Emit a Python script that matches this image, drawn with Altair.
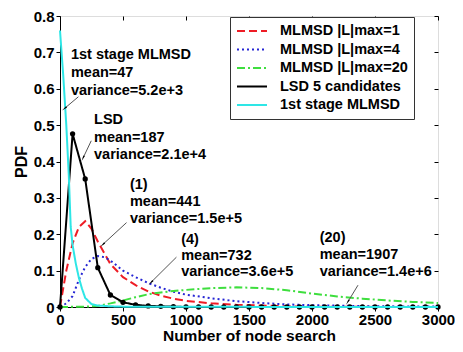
import math
import altair as alt
import pandas as pd

FONT = "Liberation Sans"

series_names = ["MLMSD |L|max=1", "MLMSD |L|max=4", "MLMSD |L|max=20",
                "LSD 5 candidates", "1st stage MLMSD"]
series_colors = ["#ee1c25", "#2626d4", "#3ede3e", "#000000", "#2ee6e6"]
series_dash = [[8, 4], [2, 3], [8, 3, 2, 3], [1, 0], [1, 0]]

red_x = [0, 50, 100, 150, 200, 250, 300, 400, 500, 600, 700, 800, 900, 1000,
         1200, 1400, 1600, 1800, 2000, 2500, 3000]
red_y = [0, 0.10, 0.175, 0.22, 0.236, 0.215, 0.18, 0.118, 0.082, 0.06, 0.043,
         0.031, 0.023, 0.017, 0.010, 0.006, 0.004, 0.002, 0.001, 0.0003, 0]

blue_x = [0, 50, 100, 150, 200, 250, 300, 350, 400, 500, 600, 700, 800, 900,
          1000, 1200, 1400, 1600, 1800, 2000, 2500, 3000]
blue_y = [0, 0.01, 0.03, 0.075, 0.11, 0.132, 0.14, 0.137, 0.128, 0.10, 0.082,
          0.066, 0.053, 0.042, 0.034, 0.024, 0.016, 0.011, 0.007, 0.005, 0.002, 0.001]

green_x = [0, 200, 300, 400, 500, 600, 700, 800, 900, 1000, 1200, 1400, 1600,
           1800, 2000, 2200, 2400, 2600, 2800, 3000]
green_y = [0, 0.001, 0.003, 0.01, 0.018, 0.027, 0.035, 0.04, 0.044, 0.047,
           0.052, 0.054, 0.052, 0.046, 0.037, 0.029, 0.023, 0.018, 0.014, 0.011]

lsd_x = list(range(0, 3001, 100))
lsd_y = [0, 0.476, 0.352, 0.108, 0.033, 0.013, 0.006, 0.003, 0.002, 0.001] + [0] * 21

cyan_x = [0, 25, 50, 70, 85, 100, 125, 150, 175, 200, 250, 300, 400, 500, 1000, 2000, 3000]
cyan_y = [0.76, 0.64, 0.50, 0.36, 0.22, 0.17, 0.12, 0.08, 0.05, 0.025, 0.008,
          0.004, 0.002, 0.001, 0.0005, 0.0002, 0]

ann_text = ["1st stage MLMSD", "mean=47", "variance=5.2e+3",
            "LSD", "mean=187", "variance=2.1e+4",
            "(1)", "mean=441", "variance=1.5e+5",
            "(4)", "mean=732", "variance=3.6e+5",
            "(20)", "mean=1907", "variance=1.4e+6"]
ann_x = [87] * 3 + [270] * 3 + [555] * 3 + [962] * 3 + [2061] * 3
ann_y = [0.692, 0.643, 0.595, 0.514, 0.465, 0.419, 0.335, 0.289, 0.243,
         0.184, 0.141, 0.097, 0.189, 0.143, 0.097]

arrow_x = [146, 248, 528, 924, 2365]
arrow_y = [0.578, 0.457, 0.232, 0.137, 0.060]
arrow_x2 = [40, 185, 343, 726, 2286]
arrow_y2 = [0.547, 0.411, 0.173, 0.069, 0.015]

x_ticks = [0, 500, 1000, 1500, 2000, 2500, 3000]
y_ticks = [0, 0.1, 0.2, 0.3, 0.4, 0.5, 0.6, 0.7, 0.8]

W, H = 378, 291

# ---- tables
rows = []
for name, xs_, ys_ in zip(series_names, [red_x, blue_x, green_x, lsd_x, cyan_x],
                          [red_y, blue_y, green_y, lsd_y, cyan_y]):
    for a, b in zip(xs_, ys_):
        rows.append({"series": name, "x": a, "y": b})
lines_df = pd.DataFrame(rows)
ann_df = pd.DataFrame({"text": ann_text, "x": ann_x, "y": ann_y})
angles = []
for x1, y1, x2, y2 in zip(arrow_x, arrow_y, arrow_x2, arrow_y2):
    dx = (x2 - x1) * W / 3000.0
    dy = -(y2 - y1) * H / 0.8
    angles.append(math.degrees(math.atan2(dx, -dy)) % 360)
arr_df = pd.DataFrame({"x": arrow_x, "y": arrow_y, "x2": arrow_x2,
                       "y2": arrow_y2, "angle": angles})

xsc = alt.Scale(domain=[0, 3000], nice=False, zero=False)
ysc = alt.Scale(domain=[0, 0.8], nice=False, zero=False)
color_scale = alt.Scale(domain=series_names, range=series_colors)
dash_scale = alt.Scale(domain=series_names, range=series_dash)

legend = alt.Legend(title=None, orient="none", legendX=170, legendY=1,
                    symbolType="stroke", symbolSize=900, symbolStrokeWidth=2,
                    labelFont=FONT, labelFontSize=14.5, labelFontWeight="bold",
                    labelColor="black", labelLimit=300, padding=6,
                    strokeColor="#333333", fillColor="white", rowPadding=2.5,
                    labelOffset=12, clipHeight=16)

ax_bottom = alt.Axis(values=x_ticks, format="d", title="Number of node search",
                     grid=False, tickSize=4, tickColor="black", domainColor="black",
                     labelFont=FONT, labelFontSize=15, labelFontWeight="bold",
                     labelColor="black", labelPadding=1, labelFlush=False,
                     titleFont=FONT, titleFontSize=15.5, titleFontWeight="bold",
                     titleColor="black", titlePadding=1)
ax_left = alt.Axis(values=y_ticks, format="~g", title="PDF", grid=False,
                   tickSize=4, tickColor="black", domainColor="black",
                   labelFont=FONT, labelFontSize=15, labelFontWeight="bold",
                   labelColor="black", labelPadding=2, labelFlush=False,
                   titleFont=FONT, titleFontSize=16, titleFontWeight="bold",
                   titleColor="black", titlePadding=4)
ax_top = alt.Axis(orient="top", values=x_ticks, labels=False, title=None,
                  grid=False, domain=False, tickSize=4, offset=-4, tickColor="black")
ax_right = alt.Axis(orient="right", values=y_ticks, labels=False, title=None,
                    grid=False, domain=False, tickSize=4, offset=-4, tickColor="black")

layers = []
for i, name in enumerate(series_names):
    xa = ax_bottom if i == 0 else None
    ya = ax_left if i == 0 else None
    layers.append(
        alt.Chart(lines_df).transform_filter(alt.datum.series == name)
        .mark_line(strokeWidth=2)
        .encode(
            x=alt.X("x:Q", scale=xsc, axis=xa),
            y=alt.Y("y:Q", scale=ysc, axis=ya),
            color=alt.Color("series:N", scale=color_scale, legend=legend),
            strokeDash=alt.StrokeDash("series:N", scale=dash_scale, legend=legend),
        )
    )
    if name == "LSD 5 candidates":
        layers.append(
            alt.Chart(lines_df).transform_filter(alt.datum.series == name)
            .mark_point(filled=True, size=28, color="black", opacity=1)
            .encode(x=alt.X("x:Q", scale=xsc, axis=None),
                    y=alt.Y("y:Q", scale=ysc, axis=None))
        )

arrows = alt.Chart(arr_df).mark_rule(color="#555555", strokeWidth=1).encode(
    x=alt.X("x:Q", scale=xsc, axis=ax_top),
    y=alt.Y("y:Q", scale=ysc, axis=ax_right),
    x2="x2:Q", y2="y2:Q",
)
heads = alt.Chart(arr_df).mark_point(shape="wedge", filled=True, size=45,
                                     color="black", opacity=1).encode(
    x=alt.X("x2:Q", scale=xsc, axis=None),
    y=alt.Y("y2:Q", scale=ysc, axis=None),
    angle=alt.Angle("angle:Q", scale=None),
)
texts = alt.Chart(ann_df).mark_text(align="left", baseline="middle", font=FONT,
                                    fontSize=14.5, fontWeight="bold",
                                    color="black").encode(
    x=alt.X("x:Q", scale=xsc, axis=None),
    y=alt.Y("y:Q", scale=ysc, axis=None),
    text="text:N",
)

chart = alt.layer(*layers, arrows, heads, texts).resolve_axis(
    x="independent", y="independent"
).properties(
    width=W, height=H,
    autosize=alt.AutoSizeParams(type="none"),
    padding={"left": 52, "top": 8, "right": 17, "bottom": 37},
).configure_view(stroke="#333333", strokeWidth=1).configure(background="white")

chart.save("out.html", embed_options={"renderer": "svg", "actions": False})
